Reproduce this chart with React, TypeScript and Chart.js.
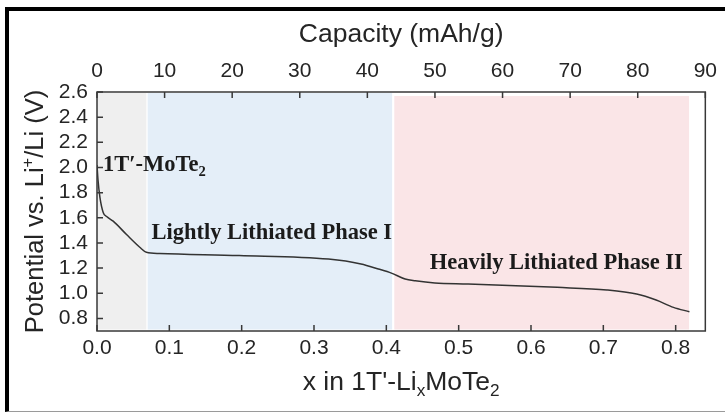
import React, { useEffect, useRef } from "react";
import { Chart, registerables } from "chart.js";

Chart.register(...registerables);

// x in 1T'-LixMoTe2 and potential (V vs Li+/Li)
const X_VALUES = [0, 0.0014, 0.0041, 0.0087, 0.0133, 0.0224, 0.0408, 0.0591, 0.0683, 0.0866, 0.1965, 0.32, 0.365, 0.389, 0.407, 0.426, 0.44, 0.467, 0.513, 0.636, 0.705, 0.746, 0.773, 0.797, 0.819];
const POTENTIAL = [2.02, 1.9, 1.76, 1.64, 1.61, 1.573, 1.467, 1.366, 1.326, 1.316, 1.3, 1.272, 1.233, 1.193, 1.16, 1.113, 1.099, 1.082, 1.074, 1.047, 1.026, 0.994, 0.946, 0.888, 0.853];

const X_TICKS = [0, 0.1, 0.2, 0.3, 0.4, 0.5, 0.6, 0.7, 0.8];
const CAPACITY_TICKS = [0, 10, 20, 30, 40, 50, 60, 70, 80, 90];
const Y_TICKS = [0.8, 1.0, 1.2, 1.4, 1.6, 1.8, 2.0, 2.2, 2.4, 2.6];

// phase regions (in x units)
const PHASE_START = [0, 0.07, 0.411];
const PHASE_END = [0.0683, 0.408, 0.8185];
const PHASE_TOP = [2.592, 2.592, 2.568];
const PHASE_COLORS = ["#efefef", "#e4eef8", "#fae5e7"];

// phase labels (anchored at left/baseline in data units)
type Seg = { t: string; s?: "sub" | "sup" };
const LABEL_TEXT: Seg[][] = [
  [{ t: "1T\u2032-MoTe" }, { t: "2", s: "sub" }],
  [{ t: "Lightly Lithiated Phase I" }],
  [{ t: "Heavily Lithiated Phase II" }],
];
const LABEL_X = [0.0082, 0.0752, 0.46];
const LABEL_Y = [1.974, 1.429, 1.19];

const TOP_TITLE: Seg[] = [{ t: "Capacity (mAh/g)" }];
const BOTTOM_TITLE: Seg[] = [{ t: "x in 1T'-Li" }, { t: "x", s: "sub" }, { t: "MoTe" }, { t: "2", s: "sub" }];
const Y_TITLE: Seg[] = [{ t: "Potential vs. Li" }, { t: "+", s: "sup" }, { t: "/Li (V)" }];

const SANS = '"Liberation Sans", Arial, sans-serif';
const SERIF = '"Liberation Serif", "Times New Roman", serif';
const TEXT = "#252525";

function richWidth(ctx: CanvasRenderingContext2D, segs: Seg[], size: number, family: string, weight: string) {
  let w = 0;
  for (const sg of segs) {
    const fs = sg.s ? size * 0.65 : size;
    ctx.font = `${weight} ${fs}px ${family}`;
    w += ctx.measureText(sg.t).width;
  }
  return w;
}

function drawRich(ctx: CanvasRenderingContext2D, segs: Seg[], x: number, y: number, size: number, family: string, weight: string, align: "left" | "center") {
  const total = richWidth(ctx, segs, size, family, weight);
  let cx = align === "center" ? x - total / 2 : x;
  ctx.textBaseline = "alphabetic";
  ctx.textAlign = "left";
  for (const sg of segs) {
    const fs = sg.s ? size * 0.65 : size;
    ctx.font = `${weight} ${fs}px ${family}`;
    const dy = sg.s === "sub" ? size * 0.22 : sg.s === "sup" ? -size * 0.38 : 0;
    ctx.fillText(sg.t, cx, y + dy);
    cx += ctx.measureText(sg.t).width;
  }
}

const decorPlugin = {
  id: "decor",
  beforeDatasetsDraw(chart: any) {
    const { ctx, chartArea } = chart;
    const xs = chart.scales.x;
    const ys = chart.scales.y;
    ctx.save();
    for (let i = 0; i < PHASE_START.length; i++) {
      const x0 = xs.getPixelForValue(PHASE_START[i]);
      const x1 = xs.getPixelForValue(PHASE_END[i]);
      const y0 = ys.getPixelForValue(PHASE_TOP[i]);
      ctx.fillStyle = PHASE_COLORS[i];
      ctx.fillRect(x0, y0, x1 - x0, chartArea.bottom - 1.5 - y0);
    }
    ctx.restore();
  },
  afterDatasetsDraw(chart: any) {
    const { ctx, chartArea } = chart;
    const xs = chart.scales.x;
    const x2 = chart.scales.x2;
    const ys = chart.scales.y;
    ctx.save();
    // phase labels
    ctx.fillStyle = "#1b1b1b";
    for (let i = 0; i < LABEL_TEXT.length; i++) {
      drawRich(ctx, LABEL_TEXT[i], xs.getPixelForValue(LABEL_X[i]), ys.getPixelForValue(LABEL_Y[i]), 22.5, SERIF, "bold", "left");
    }
    // frame
    ctx.strokeStyle = "#383838";
    ctx.lineWidth = 1.5;
    ctx.strokeRect(chartArea.left, chartArea.top, chartArea.right - chartArea.left, chartArea.bottom - chartArea.top);
    // inward ticks
    const TL = 6;
    ctx.beginPath();
    for (const v of X_TICKS) {
      const px = xs.getPixelForValue(v);
      ctx.moveTo(px, chartArea.bottom);
      ctx.lineTo(px, chartArea.bottom - TL);
    }
    for (const v of CAPACITY_TICKS) {
      const px = x2.getPixelForValue(v);
      ctx.moveTo(px, chartArea.top);
      ctx.lineTo(px, chartArea.top + TL);
    }
    for (const v of Y_TICKS) {
      const py = ys.getPixelForValue(v);
      ctx.moveTo(chartArea.left, py);
      ctx.lineTo(chartArea.left + TL, py);
    }
    ctx.stroke();
    // axis titles
    ctx.fillStyle = TEXT;
    const cx = (chartArea.left + chartArea.right) / 2;
    drawRich(ctx, TOP_TITLE, cx, chartArea.top - 50, 26.5, SANS, "normal", "center");
    drawRich(ctx, BOTTOM_TITLE, cx, chartArea.bottom + 59, 26.5, SANS, "normal", "center");
    ctx.save();
    ctx.translate(chartArea.left - 54, (chartArea.top + chartArea.bottom) / 2);
    ctx.rotate(-Math.PI / 2);
    drawRich(ctx, Y_TITLE, 0, 0, 25.5, SANS, "normal", "center");
    ctx.restore();
    ctx.restore();
  },
};

export default function App() {
  const ref = useRef<HTMLCanvasElement | null>(null);
  useEffect(() => {
    if (!ref.current) return;
    const tickFont = { family: SANS, size: 21 };
    const chart = new Chart(ref.current, {
      type: "line",
      data: {
        datasets: [
          {
            data: X_VALUES.map((x, i) => ({ x, y: POTENTIAL[i] })),
            borderColor: "#333333",
            borderWidth: 1.5,
            pointRadius: 0,
            cubicInterpolationMode: "monotone",
            fill: false,
            xAxisID: "x",
            yAxisID: "y",
          },
        ],
      },
      options: {
        responsive: false,
        animation: false,
        layout: { padding: { left: 0, top: 0, right: 16, bottom: 0 } },
        plugins: { legend: { display: false }, tooltip: { enabled: false } },
        scales: {
          x: {
            type: "linear",
            position: "bottom",
            min: 0,
            max: 0.841,
            afterBuildTicks: (s: any) => { s.ticks = X_TICKS.map((v) => ({ value: v })); },
            afterFit: (s: any) => { s.height = 84; },
            ticks: { font: tickFont, color: TEXT, padding: 5, autoSkip: false, maxRotation: 0, callback: (v: any) => Number(v).toFixed(1) },
            grid: { display: false, drawTicks: false },
            border: { display: false },
          },
          x2: {
            type: "linear",
            position: "top",
            min: 0,
            max: 90,
            afterBuildTicks: (s: any) => { s.ticks = CAPACITY_TICKS.map((v) => ({ value: v })); },
            afterFit: (s: any) => { s.height = 92; },
            ticks: { font: tickFont, color: TEXT, padding: 8, autoSkip: false, maxRotation: 0, callback: (v: any) => String(v) },
            grid: { display: false, drawTicks: false },
            border: { display: false },
          },
          y: {
            type: "linear",
            position: "left",
            min: 0.7,
            max: 2.6,
            afterBuildTicks: (s: any) => { s.ticks = Y_TICKS.map((v) => ({ value: v })); },
            afterFit: (s: any) => { s.width = 97; },
            ticks: { font: tickFont, color: TEXT, padding: 9, autoSkip: false, callback: (v: any) => Number(v).toFixed(1) },
            grid: { display: false, drawTicks: false },
            border: { display: false },
          },
        },
      } as any,
      plugins: [decorPlugin],
    });
    return () => chart.destroy();
  }, []);

  return (
    <div style={{ position: "absolute", left: 0, top: 0, width: 725, height: 415, background: "#fff", overflow: "hidden" }}>
      <div
        style={{
          position: "absolute",
          left: 5,
          top: 7,
          width: 725,
          height: 405,
          borderLeft: "4px solid #000",
          borderTop: "4px solid #000",
          borderBottom: "1px solid #9a9a9a",
          boxSizing: "border-box",
        }}
      />
      <canvas ref={ref} width={725} height={415} style={{ position: "absolute", left: 0, top: 0, width: 725, height: 415 }} />
    </div>
  );
}
